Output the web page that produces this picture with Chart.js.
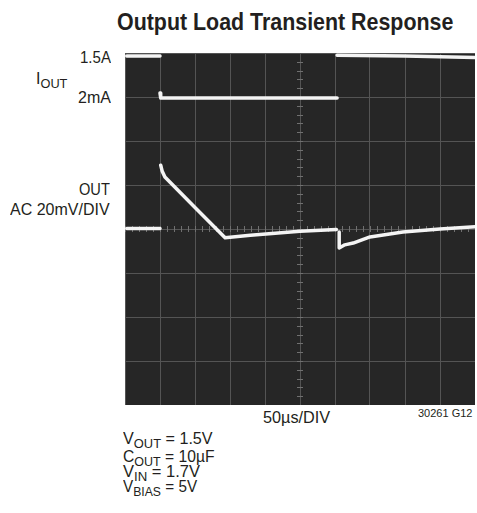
<!DOCTYPE html>
<html>
<head>
<meta charset="utf-8">
<script src="https://cdn.jsdelivr.net/npm/chart.js@4.4.1/dist/chart.umd.min.js"></script>
<style>
  body { margin: 0; background: #fff; }
  #page { position: relative; width: 477px; height: 513px; overflow: hidden;
          font-family: "Liberation Sans", Arial, sans-serif; color: #231f20; }
  .lbl { position: absolute; white-space: nowrap; font-size: 16.5px; line-height: 1; }
  .lbl sub { font-size: 0.8em; vertical-align: -0.3em; line-height: 0; }
  #title { font-size: 24px; font-weight: bold; }
  #plot { position: absolute; left: 125px; top: 53px; width: 350px; height: 352px; background: #262626; }
</style>
</head>
<body>
<div id="page">
  <div class="lbl" id="title" data-x="117" data-w="336" style="top:10px">Output Load Transient Response</div>
  <div class="lbl" data-r="111" data-w="31" style="top:49px">1.5A</div>
  <div class="lbl" data-x="36" data-w="31" style="top:70px">I<sub>OUT</sub></div>
  <div class="lbl" data-r="111" data-w="33" style="top:89px">2mA</div>
  <div class="lbl" data-r="110" data-w="31" style="top:181px">OUT</div>
  <div class="lbl" data-r="110" data-w="100" style="top:201px">AC 20mV/DIV</div>
  <div class="lbl" data-x="263" data-w="67" style="top:409px">50µs/DIV</div>
  <div class="lbl" data-x="418" data-w="55" style="top:409px; font-size:10px">30261 G12</div>
  <div class="lbl" data-x="123" data-w="90" style="top:430px">V<sub>OUT</sub> = 1.5V</div>
  <div class="lbl" data-x="123" data-w="92" style="top:448px">C<sub>OUT</sub> = 10µF</div>
  <div class="lbl" data-x="123" data-w="77" style="top:463px">V<sub>IN</sub> = 1.7V</div>
  <div class="lbl" data-x="123" data-w="74" style="top:478px">V<sub>BIAS</sub> = 5V</div>
  <div id="plot"><canvas id="scope" width="350" height="352"></canvas></div>
</div>
<script>
// tiempo en µs (50µs/DIV), amplitud en divisiones (0 abajo, 8 arriba)
const ioutT = [2.5, 50, null, 50, 51, 303, null, 303, 400, 500];
const ioutV = [7.93, 7.93, null, 7.09, 6.98, 6.98, null, 7.95, 7.93, 7.9];

const outT = [2.5, 50, null, 51, 53, 57, 100, 143, 179, 250, 302, null,
              306, 306, 314, 326, 350, 397, 450, 500];
const outV = [4.01, 4.01, null, 5.45, 5.32, 5.18, 4.49, 3.80, 3.86, 3.95, 3.99, null,
              3.93, 3.57, 3.64, 3.68, 3.82, 3.93, 4.0, 4.05];

// ajustar textos al ancho condensado del original
document.querySelectorAll('.lbl').forEach(el => {
    const w = el.offsetWidth;
    const objetivo = parseFloat(el.dataset.w);
    el.style.transformOrigin = '0 0';
    el.style.transform = 'scaleX(' + (objetivo / w) + ')';
    if (el.dataset.r) {
        el.style.left = (parseFloat(el.dataset.r) - objetivo) + 'px';
    } else {
        el.style.left = el.dataset.x + 'px';
    }
});

function puntos(t, v) {
    return t.map((x, i) => ({ x: x === null ? NaN : x, y: v[i] }));
}

// marcas menores en la cruz central
const marcasCentro = {
    id: 'marcasCentro',
    beforeDatasetsDraw(chart) {
        const ctx = chart.ctx;
        const xs = chart.scales.x, ys = chart.scales.y;
        const cx = xs.getPixelForValue(250), cy = ys.getPixelForValue(4);
        ctx.save();
        ctx.strokeStyle = '#707070';
        ctx.lineWidth = 1;
        ctx.beginPath();
        for (let t = 0; t <= 500; t += 10) {
            const px = Math.round(xs.getPixelForValue(t)) + 0.5;
            ctx.moveTo(px, cy - 3); ctx.lineTo(px, cy + 3);
        }
        for (let d = 0; d <= 8; d += 0.2) {
            const py = Math.round(ys.getPixelForValue(d)) + 0.5;
            ctx.moveTo(cx - 3, py); ctx.lineTo(cx + 3, py);
        }
        ctx.stroke();
        ctx.restore();
    }
};

const ctx = document.getElementById('scope').getContext('2d');
const grafico = new Chart(ctx, {
    type: 'line',
    data: {
        datasets: [
            { label: 'IOUT', data: puntos(ioutT, ioutV) },
            { label: 'OUT', data: puntos(outT, outV) }
        ]
    },
    options: {
        responsive: false,
        animation: false,
        spanGaps: false,
        layout: { padding: 0 },
        elements: {
            point: { radius: 0 },
            line: { borderColor: '#f4f4f4', borderWidth: 3.5, tension: 0, borderCapStyle: 'round', borderJoinStyle: 'round' }
        },
        plugins: { legend: { display: false }, tooltip: { enabled: false } },
        scales: {
            x: {
                type: 'linear', min: 0, max: 500,
                ticks: { display: false, stepSize: 50 },
                grid: { color: '#545454', lineWidth: 1, drawTicks: false, tickLength: 0 },
                border: { display: false }
            },
            y: {
                type: 'linear', min: 0, max: 8,
                ticks: { display: false, stepSize: 1 },
                grid: { color: '#545454', lineWidth: 1, drawTicks: false, tickLength: 0 },
                border: { display: false }
            }
        }
    },
    plugins: [marcasCentro]
});
</script>
</body>
</html>
